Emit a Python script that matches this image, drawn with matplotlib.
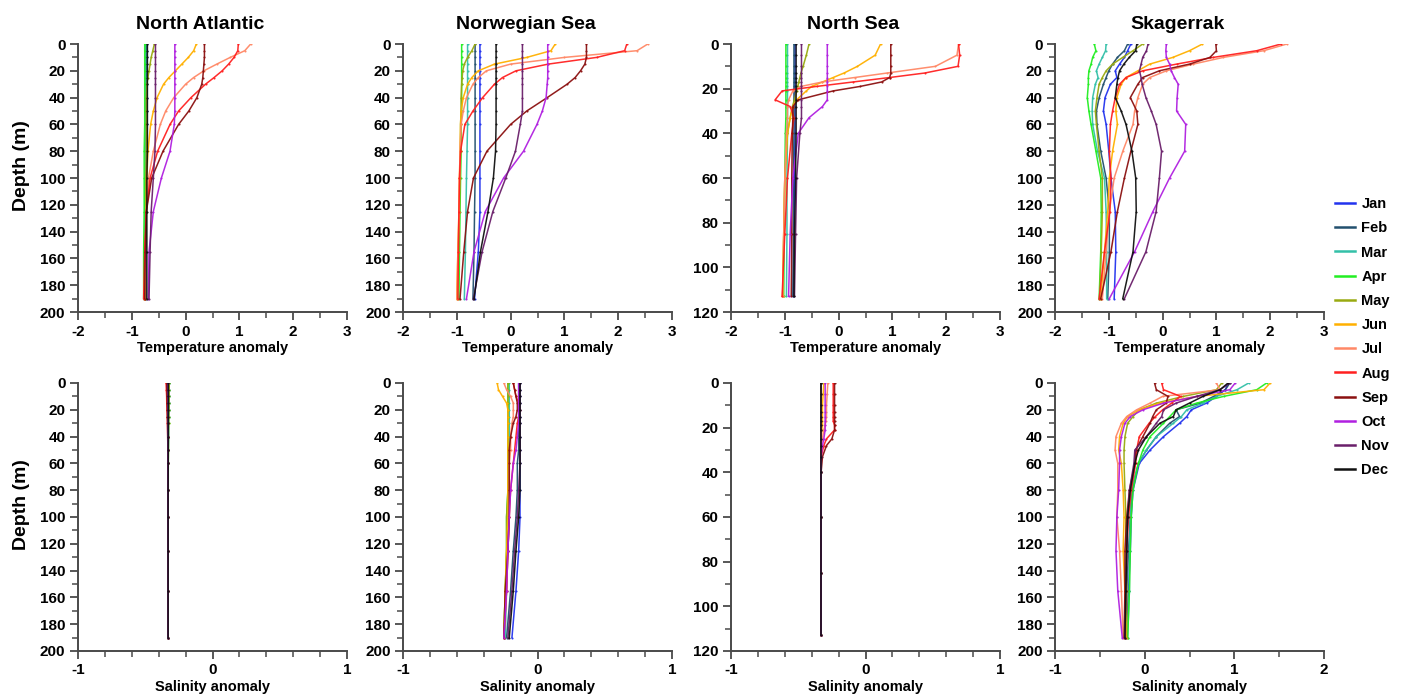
import matplotlib
matplotlib.use("Agg")
import matplotlib.pyplot as plt
from matplotlib.ticker import MultipleLocator

plt.rcParams['font.family'] = ['Liberation Sans', 'DejaVu Sans']
plt.rcParams['font.weight'] = 'bold'
plt.rcParams['axes.unicode_minus'] = False

months = ['Jan', 'Feb', 'Mar', 'Apr', 'May', 'Jun', 'Jul', 'Aug', 'Sep', 'Oct', 'Nov', 'Dec']
colors = ['#2233ee', '#22506e', '#33c0a8', '#22ee22', '#99aa11', '#ffb000',
          '#ff8866', '#ff2020', '#8b1010', '#b020e0', '#6a1f6a', '#111111']

regions = ['North Atlantic', 'Norwegian Sea', 'North Sea', 'Skagerrak']

# depth levels (m)
depth = [0, 5, 10, 15, 20, 25, 30, 40, 50, 60, 80, 100, 125, 155, 190]
depth_ns = [0, 5, 10, 13, 15, 17, 19, 21, 25, 28, 33, 40, 60, 85, 113]

# ---- temperature anomaly, one row per month ----
na_temp = [
    [-0.72, -0.72, -0.72, -0.72, -0.72, -0.72, -0.72, -0.72, -0.72, -0.72, -0.72, -0.73, -0.73, -0.74, -0.74],
    [-0.73, -0.73, -0.73, -0.73, -0.73, -0.73, -0.73, -0.73, -0.73, -0.73, -0.73, -0.74, -0.74, -0.75, -0.75],
    [-0.74, -0.74, -0.74, -0.74, -0.74, -0.74, -0.74, -0.74, -0.74, -0.74, -0.75, -0.75, -0.76, -0.76, -0.77],
    [-0.76, -0.76, -0.76, -0.76, -0.76, -0.76, -0.76, -0.76, -0.76, -0.76, -0.77, -0.77, -0.77, -0.78, -0.78],
    [-0.58, -0.61, -0.64, -0.66, -0.68, -0.70, -0.72, -0.73, -0.73, -0.73, -0.73, -0.74, -0.74, -0.75, -0.76],
    [0.20, 0.15, 0.05, -0.07, -0.19, -0.31, -0.41, -0.53, -0.60, -0.65, -0.70, -0.72, -0.73, -0.75, -0.76],
    [1.21, 1.10, 0.83, 0.58, 0.34, 0.15, 0.00, -0.22, -0.37, -0.47, -0.60, -0.69, -0.73, -0.75, -0.77],
    [0.98, 0.97, 0.90, 0.80, 0.68, 0.53, 0.37, 0.10, -0.13, -0.29, -0.52, -0.66, -0.73, -0.76, -0.78],
    [0.35, 0.35, 0.35, 0.34, 0.33, 0.32, 0.30, 0.21, 0.06, -0.13, -0.42, -0.63, -0.73, -0.75, -0.76],
    [-0.20, -0.20, -0.20, -0.20, -0.20, -0.20, -0.20, -0.20, -0.20, -0.21, -0.29, -0.45, -0.60, -0.68, -0.69],
    [-0.56, -0.56, -0.56, -0.56, -0.56, -0.56, -0.56, -0.56, -0.56, -0.56, -0.57, -0.60, -0.64, -0.66, -0.68],
    [-0.71, -0.71, -0.71, -0.71, -0.71, -0.71, -0.71, -0.71, -0.71, -0.71, -0.71, -0.72, -0.72, -0.72, -0.72],
]
nw_temp = [
    [-0.57, -0.57, -0.57, -0.57, -0.57, -0.57, -0.57, -0.57, -0.57, -0.57, -0.57, -0.57, -0.57, -0.60, -0.67],
    [-0.66, -0.66, -0.66, -0.66, -0.66, -0.66, -0.66, -0.66, -0.66, -0.66, -0.66, -0.66, -0.67, -0.68, -0.70],
    [-0.80, -0.80, -0.80, -0.80, -0.80, -0.80, -0.80, -0.80, -0.80, -0.80, -0.81, -0.82, -0.83, -0.84, -0.86],
    [-0.91, -0.91, -0.91, -0.91, -0.91, -0.91, -0.91, -0.91, -0.91, -0.92, -0.92, -0.93, -0.94, -0.95, -0.96],
    [-0.66, -0.72, -0.80, -0.86, -0.89, -0.90, -0.91, -0.92, -0.92, -0.93, -0.93, -0.94, -0.95, -0.97, -0.99],
    [0.83, 0.75, 0.30, -0.30, -0.60, -0.72, -0.80, -0.88, -0.92, -0.93, -0.94, -0.95, -0.96, -0.98, -1.00],
    [2.55, 2.35, 1.00, 0.00, -0.45, -0.60, -0.70, -0.82, -0.88, -0.92, -0.94, -0.95, -0.96, -0.98, -1.00],
    [2.16, 2.12, 1.60, 0.70, 0.10, -0.15, -0.30, -0.52, -0.70, -0.85, -0.93, -0.95, -0.96, -0.97, -0.98],
    [1.41, 1.41, 1.41, 1.38, 1.30, 1.20, 1.05, 0.68, 0.30, 0.00, -0.44, -0.69, -0.80, -0.87, -0.94],
    [0.69, 0.69, 0.69, 0.69, 0.69, 0.69, 0.68, 0.66, 0.59, 0.49, 0.24, -0.13, -0.47, -0.68, -0.82],
    [0.22, 0.22, 0.22, 0.22, 0.22, 0.22, 0.22, 0.22, 0.22, 0.18, 0.09, -0.09, -0.33, -0.53, -0.69],
    [-0.27, -0.27, -0.27, -0.27, -0.27, -0.27, -0.27, -0.27, -0.27, -0.27, -0.28, -0.32, -0.42, -0.56, -0.68],
]
ns_temp = [
    [-0.81, -0.81, -0.81, -0.81, -0.81, -0.81, -0.81, -0.81, -0.81, -0.81, -0.81, -0.81, -0.82, -0.83, -0.84],
    [-0.83, -0.83, -0.83, -0.83, -0.83, -0.83, -0.83, -0.83, -0.83, -0.83, -0.83, -0.83, -0.84, -0.84, -0.85],
    [-0.95, -0.95, -0.95, -0.95, -0.95, -0.95, -0.95, -0.95, -0.95, -0.95, -0.95, -0.95, -0.96, -0.96, -0.97],
    [-0.98, -0.98, -0.98, -0.98, -0.98, -0.98, -0.98, -0.98, -0.98, -0.98, -0.98, -0.99, -1.00, -1.01, -1.02],
    [-0.55, -0.60, -0.66, -0.70, -0.72, -0.74, -0.76, -0.78, -0.82, -0.86, -0.90, -0.95, -1.00, -1.02, -1.04],
    [0.78, 0.68, 0.35, 0.10, -0.10, -0.30, -0.50, -0.60, -0.78, -0.85, -0.90, -0.95, -1.00, -1.02, -1.04],
    [2.23, 2.20, 1.80, 0.90, 0.30, -0.30, -0.70, -0.85, -0.93, -0.95, -0.95, -0.97, -1.00, -1.02, -1.04],
    [2.23, 2.25, 2.22, 1.60, 0.95, 0.27, -0.41, -1.05, -1.18, -0.90, -0.83, -0.87, -0.95, -1.00, -1.05],
    [0.97, 0.97, 0.97, 0.97, 0.95, 0.80, 0.40, -0.10, -0.75, -0.85, -0.85, -0.86, -0.87, -0.87, -0.88],
    [-0.21, -0.21, -0.21, -0.21, -0.21, -0.21, -0.21, -0.21, -0.21, -0.30, -0.55, -0.75, -0.85, -0.90, -0.93],
    [-0.69, -0.69, -0.69, -0.69, -0.69, -0.69, -0.69, -0.69, -0.69, -0.69, -0.69, -0.72, -0.78, -0.80, -0.82],
    [-0.79, -0.79, -0.79, -0.79, -0.79, -0.79, -0.79, -0.79, -0.79, -0.79, -0.79, -0.79, -0.80, -0.82, -0.83],
]
sk_temp = [
    [-0.59, -0.65, -0.71, -0.80, -0.88, -0.85, -0.97, -1.07, -1.10, -1.05, -1.00, -0.96, -0.88, -0.87, -0.90],
    [-0.65, -0.71, -0.84, -0.93, -1.00, -1.05, -1.10, -1.18, -1.23, -1.22, -1.15, -1.05, -0.99, -0.99, -1.02],
    [-1.05, -1.06, -1.12, -1.18, -1.23, -1.20, -1.25, -1.30, -1.31, -1.30, -1.21, -1.08, -1.05, -1.04, -1.04],
    [-1.27, -1.24, -1.30, -1.33, -1.37, -1.38, -1.38, -1.40, -1.37, -1.33, -1.24, -1.15, -1.14, -1.15, -1.18],
    [-0.37, -0.55, -0.74, -0.93, -1.05, -1.12, -1.18, -1.22, -1.25, -1.23, -1.18, -1.12, -1.12, -1.14, -1.17],
    [0.74, 0.50, 0.19, -0.24, -0.46, -0.68, -0.77, -0.85, -0.87, -0.84, -0.93, -0.99, -1.02, -1.08, -1.15],
    [2.31, 1.88, 1.13, 0.57, 0.07, -0.24, -0.37, -0.46, -0.52, -0.55, -0.74, -0.90, -0.99, -1.05, -1.12],
    [2.20, 1.75, 0.94, 0.26, -0.37, -0.68, -0.80, -0.88, -0.93, -0.97, -0.99, -0.96, -0.98, -1.08, -1.18],
    [0.99, 1.00, 0.88, 0.50, -0.06, -0.37, -0.46, -0.60, -0.48, -0.46, -0.59, -0.71, -0.84, -0.96, -1.15],
    [0.07, 0.06, 0.07, 0.13, 0.16, 0.22, 0.29, 0.27, 0.26, 0.43, 0.41, 0.13, -0.18, -0.52, -0.99],
    [-0.27, -0.30, -0.37, -0.40, -0.43, -0.40, -0.38, -0.31, -0.21, -0.12, -0.02, -0.06, -0.12, -0.31, -0.71],
    [-0.48, -0.50, -0.62, -0.72, -0.80, -0.83, -0.85, -0.88, -0.77, -0.68, -0.57, -0.50, -0.49, -0.55, -0.74],
]

# ---- salinity anomaly, one row per month ----
na_sal = [
    [-0.325, -0.325, -0.326, -0.326, -0.327, -0.327, -0.328, -0.328, -0.329, -0.329, -0.330, -0.330, -0.330, -0.330, -0.330],
    [-0.326, -0.326, -0.327, -0.327, -0.327, -0.328, -0.328, -0.328, -0.329, -0.329, -0.330, -0.330, -0.330, -0.330, -0.330],
    [-0.326, -0.326, -0.326, -0.327, -0.327, -0.327, -0.328, -0.328, -0.329, -0.329, -0.329, -0.330, -0.330, -0.330, -0.330],
    [-0.324, -0.324, -0.325, -0.325, -0.326, -0.326, -0.327, -0.328, -0.328, -0.329, -0.329, -0.330, -0.330, -0.330, -0.330],
    [-0.323, -0.324, -0.324, -0.325, -0.326, -0.326, -0.327, -0.328, -0.328, -0.329, -0.329, -0.330, -0.330, -0.330, -0.330],
    [-0.328, -0.328, -0.329, -0.329, -0.329, -0.330, -0.330, -0.330, -0.330, -0.330, -0.330, -0.330, -0.330, -0.330, -0.330],
    [-0.335, -0.334, -0.334, -0.333, -0.333, -0.332, -0.332, -0.331, -0.331, -0.331, -0.330, -0.330, -0.330, -0.330, -0.330],
    [-0.345, -0.343, -0.341, -0.340, -0.338, -0.336, -0.335, -0.333, -0.332, -0.332, -0.331, -0.331, -0.330, -0.330, -0.330],
    [-0.340, -0.339, -0.338, -0.337, -0.336, -0.335, -0.334, -0.333, -0.332, -0.332, -0.331, -0.331, -0.330, -0.330, -0.330],
    [-0.333, -0.333, -0.333, -0.332, -0.332, -0.332, -0.332, -0.331, -0.331, -0.331, -0.331, -0.330, -0.330, -0.330, -0.330],
    [-0.330, -0.330, -0.330, -0.330, -0.330, -0.330, -0.330, -0.330, -0.330, -0.330, -0.330, -0.330, -0.330, -0.330, -0.330],
    [-0.328, -0.328, -0.328, -0.328, -0.328, -0.329, -0.329, -0.329, -0.329, -0.329, -0.330, -0.330, -0.330, -0.330, -0.330],
]
nw_sal = [
    [-0.13, -0.13, -0.13, -0.13, -0.13, -0.13, -0.13, -0.13, -0.13, -0.13, -0.13, -0.13, -0.14, -0.16, -0.19],
    [-0.14, -0.14, -0.14, -0.14, -0.14, -0.14, -0.14, -0.14, -0.14, -0.15, -0.15, -0.16, -0.18, -0.20, -0.23],
    [-0.21, -0.21, -0.21, -0.21, -0.21, -0.21, -0.21, -0.21, -0.21, -0.21, -0.21, -0.22, -0.22, -0.23, -0.24],
    [-0.22, -0.22, -0.22, -0.22, -0.22, -0.22, -0.22, -0.22, -0.22, -0.22, -0.22, -0.23, -0.23, -0.24, -0.25],
    [-0.22, -0.22, -0.22, -0.22, -0.22, -0.22, -0.22, -0.22, -0.22, -0.22, -0.22, -0.23, -0.23, -0.24, -0.25],
    [-0.30, -0.29, -0.26, -0.23, -0.22, -0.22, -0.22, -0.22, -0.22, -0.22, -0.22, -0.22, -0.23, -0.24, -0.25],
    [-0.25, -0.23, -0.20, -0.18, -0.18, -0.18, -0.19, -0.20, -0.20, -0.21, -0.21, -0.21, -0.22, -0.23, -0.25],
    [-0.18, -0.17, -0.16, -0.14, -0.13, -0.14, -0.15, -0.16, -0.17, -0.18, -0.20, -0.21, -0.22, -0.23, -0.25],
    [-0.18, -0.17, -0.16, -0.15, -0.15, -0.16, -0.18, -0.20, -0.21, -0.21, -0.21, -0.21, -0.22, -0.24, -0.25],
    [-0.14, -0.14, -0.14, -0.14, -0.14, -0.14, -0.14, -0.15, -0.16, -0.18, -0.20, -0.21, -0.22, -0.23, -0.25],
    [-0.13, -0.13, -0.13, -0.13, -0.13, -0.13, -0.13, -0.13, -0.13, -0.13, -0.14, -0.15, -0.17, -0.19, -0.22],
    [-0.13, -0.13, -0.13, -0.13, -0.13, -0.13, -0.13, -0.13, -0.13, -0.13, -0.13, -0.14, -0.16, -0.18, -0.21],
]
ns_sal = [
    [-0.33, -0.33, -0.33, -0.33, -0.33, -0.33, -0.33, -0.33, -0.33, -0.33, -0.33, -0.33, -0.33, -0.33, -0.33],
    [-0.33, -0.33, -0.33, -0.33, -0.33, -0.33, -0.33, -0.33, -0.33, -0.33, -0.33, -0.33, -0.33, -0.33, -0.33],
    [-0.33, -0.33, -0.33, -0.33, -0.33, -0.33, -0.33, -0.33, -0.33, -0.33, -0.33, -0.33, -0.33, -0.33, -0.33],
    [-0.33, -0.33, -0.33, -0.33, -0.33, -0.33, -0.33, -0.33, -0.33, -0.33, -0.33, -0.33, -0.33, -0.33, -0.33],
    [-0.33, -0.33, -0.33, -0.33, -0.33, -0.33, -0.33, -0.33, -0.33, -0.33, -0.33, -0.33, -0.33, -0.33, -0.33],
    [-0.31, -0.315, -0.32, -0.32, -0.32, -0.32, -0.32, -0.325, -0.33, -0.33, -0.33, -0.33, -0.33, -0.33, -0.33],
    [-0.28, -0.285, -0.29, -0.29, -0.29, -0.295, -0.30, -0.31, -0.32, -0.33, -0.33, -0.33, -0.33, -0.33, -0.33],
    [-0.24, -0.24, -0.24, -0.24, -0.24, -0.24, -0.23, -0.23, -0.29, -0.31, -0.33, -0.33, -0.33, -0.33, -0.33],
    [-0.23, -0.23, -0.23, -0.23, -0.23, -0.23, -0.23, -0.23, -0.25, -0.29, -0.32, -0.33, -0.33, -0.33, -0.33],
    [-0.30, -0.30, -0.30, -0.30, -0.30, -0.30, -0.30, -0.30, -0.31, -0.32, -0.33, -0.33, -0.33, -0.33, -0.33],
    [-0.33, -0.33, -0.33, -0.33, -0.33, -0.33, -0.33, -0.33, -0.33, -0.33, -0.33, -0.33, -0.33, -0.33, -0.33],
    [-0.33, -0.33, -0.33, -0.33, -0.33, -0.33, -0.33, -0.33, -0.33, -0.33, -0.33, -0.33, -0.33, -0.33, -0.33],
]
sk_sal = [
    [0.93, 0.90, 0.80, 0.69, 0.52, 0.47, 0.39, 0.21, 0.06, -0.06, -0.13, -0.15, -0.16, -0.18, -0.21],
    [0.95, 0.90, 0.77, 0.62, 0.35, 0.39, 0.28, 0.13, 0.02, -0.07, -0.14, -0.16, -0.18, -0.20, -0.21],
    [1.16, 1.03, 0.80, 0.65, 0.47, 0.41, 0.32, 0.13, 0.02, -0.07, -0.15, -0.16, -0.17, -0.17, -0.19],
    [1.36, 1.25, 0.88, 0.58, 0.35, 0.28, 0.21, 0.06, -0.02, -0.07, -0.13, -0.15, -0.16, -0.17, -0.19],
    [0.86, 0.80, 0.43, 0.13, -0.06, -0.13, -0.19, -0.22, -0.23, -0.23, -0.22, -0.21, -0.21, -0.20, -0.20],
    [1.40, 1.33, 0.58, 0.17, -0.06, -0.19, -0.24, -0.28, -0.29, -0.26, -0.24, -0.23, -0.24, -0.22, -0.21],
    [0.80, 0.84, 0.20, 0.06, -0.09, -0.20, -0.26, -0.32, -0.33, -0.30, -0.30, -0.31, -0.28, -0.26, -0.24],
    [0.19, 0.21, 0.40, 0.30, 0.20, 0.12, 0.05, -0.06, -0.09, -0.10, -0.15, -0.18, -0.20, -0.21, -0.22],
    [0.11, 0.13, 0.26, 0.24, 0.13, 0.09, 0.06, -0.02, -0.10, -0.11, -0.17, -0.20, -0.22, -0.22, -0.23],
    [1.01, 0.95, 0.58, 0.21, -0.02, -0.16, -0.22, -0.26, -0.28, -0.28, -0.29, -0.31, -0.32, -0.30, -0.25],
    [0.95, 0.84, 0.58, 0.35, 0.21, 0.19, 0.13, 0.02, -0.11, -0.12, -0.17, -0.19, -0.20, -0.21, -0.22],
    [0.93, 0.84, 0.65, 0.50, 0.35, 0.32, 0.17, 0.02, -0.07, -0.11, -0.16, -0.19, -0.20, -0.21, -0.22],
]

temp_sets = [na_temp, nw_temp, ns_temp, sk_temp]
sal_sets = [na_sal, nw_sal, ns_sal, sk_sal]
depth_sets = [depth, depth, depth_ns, depth]

W, H = 1402, 698
fig = plt.figure(figsize=(W / 100, H / 100), dpi=100)

col_left = [78, 403, 731, 1055]
ax_w = 269
ax_h = 268
row_top = [44, 383]

spine_c = '#4a4a4a'


def style(ax, ymax, xlim, xmaj, xmin):
    for s in ['top', 'right']:
        ax.spines[s].set_visible(False)
    for s in ['left', 'bottom']:
        ax.spines[s].set_color(spine_c)
        ax.spines[s].set_linewidth(1.4)
    ax.set_ylim(ymax, 0)
    ax.set_xlim(*xlim)
    ax.yaxis.set_major_locator(MultipleLocator(20))
    ax.yaxis.set_minor_locator(MultipleLocator(10))
    ax.xaxis.set_major_locator(MultipleLocator(xmaj))
    ax.xaxis.set_minor_locator(MultipleLocator(xmin))
    ax.tick_params(which='major', direction='out', length=6, width=1.3, color=spine_c,
                   labelsize=11, pad=3)
    ax.tick_params(which='minor', direction='out', length=4, width=1.1, color=spine_c)
    for lab in ax.get_xticklabels() + ax.get_yticklabels():
        lab.set_fontweight('bold')


for c in range(4):
    d = depth_sets[c]
    ymax = 120 if c == 2 else 200
    for r, data in enumerate([temp_sets[c], sal_sets[c]]):
        left = col_left[c] / W
        bottom = 1 - (row_top[r] + ax_h) / H
        ax = fig.add_axes([left, bottom, ax_w / W, ax_h / H])
        for m in range(12):
            ax.plot(data[m], d, color=colors[m], lw=1.1, marker='.', ms=3.0,
                    mew=0, alpha=0.95, label=months[m])
        if r == 0:
            style(ax, ymax, (-2, 3), 1, 0.5)
            t = ax.set_title(regions[c], fontsize=14, fontweight='bold', pad=11)
            t.set_x(0.5 - 12 / ax_w)
            ax.set_xlabel('Temperature anomaly', fontsize=10.5, fontweight='bold', labelpad=2)
        else:
            if c == 3:
                style(ax, ymax, (-1, 2), 1, 0.5)
            else:
                style(ax, ymax, (-1, 1), 1, 0.2)
            ax.set_xlabel('Salinity anomaly', fontsize=10.5, fontweight='bold', labelpad=2)
        if c == 0:
            ax.set_ylabel('Depth (m)', fontsize=14, fontweight='bold')
            ax.yaxis.set_label_coords(-0.18, 0.5 + 12 / ax_h)

leg_handles = [plt.Line2D([0], [0], color=colors[m], lw=1.8) for m in range(12)]
fig.legend(leg_handles, months, loc='upper left', bbox_to_anchor=(1322 / W, 1 - 184 / H),
           frameon=False, handlelength=1.35, handletextpad=0.45,
           labelspacing=0.7, prop={'weight': 'bold', 'size': 10.5})

fig.savefig('out.png', dpi=100)
